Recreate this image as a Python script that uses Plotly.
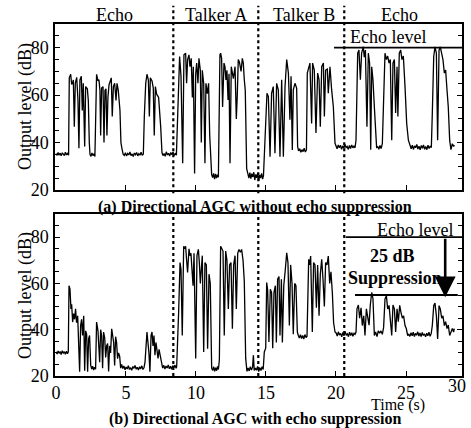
import plotly.graph_objects as go

# ---------------- data: (time s, output level dB) ----------------
# Panel (a): Directional AGC without echo suppression
a_0_to_8 = [(0.00,35.3),(0.08,34.6),(0.15,35.8),(0.22,34.9),(0.30,35.5),(0.37,34.4),(0.45,35.7),(0.52,35.0),
            (0.60,34.5),(0.67,35.9),(0.75,34.8),(0.82,35.4),(0.90,34.7),
            (0.95,67.3),(1.05,68.8),(1.12,64.5),(1.17,65.0),(1.24,66.4),(1.31,46.7),(1.38,65.0),(1.48,67.5),
            (1.57,58.0),(1.64,37.6),(1.71,66.4),(1.81,68.0),(1.88,53.5),(1.95,65.0),(2.05,38.3),(2.12,63.6),
            (2.24,62.7),(2.31,57.7),(2.38,40.0),(2.43,35.0),
            (2.50,34.2),(2.57,35.6),(2.64,34.5),(2.71,35.3),(2.78,34.1),
            (2.83,45.3),(2.90,68.8),(3.00,66.0),(3.07,66.5),(3.14,62.0),(3.19,43.0),(3.26,63.0),(3.36,63.6),
            (3.43,40.0),(3.50,62.0),(3.57,62.7),(3.64,43.0),(3.71,59.0),(3.79,64.4),(3.88,66.0),(3.95,67.3),
            (4.02,51.0),(4.10,63.6),(4.19,65.0),(4.29,57.8),(4.36,65.0),(4.45,62.0),(4.57,53.6),(4.64,40.0),
            (4.71,37.6),(4.80,35.0),
            (4.88,34.6),(4.96,35.7),(5.04,34.3),(5.12,35.4),(5.20,34.8),(5.28,36.0),(5.36,34.5),(5.44,35.2),
            (5.52,34.1),(5.60,35.6),(5.68,34.9),(5.76,35.8),(5.84,34.4),(5.92,35.3),(6.00,34.7),(6.08,35.9),
            (6.16,34.6),(6.24,35.2),
            (6.31,51.0),(6.41,65.0),(6.50,68.8),(6.60,66.4),(6.67,51.0),(6.74,67.3),(6.86,66.0),(6.95,63.0),
            (7.02,43.0),(7.10,63.6),(7.19,60.4),(7.33,59.0),(7.48,46.5),(7.57,35.8),
            (7.64,34.5),(7.72,35.4),(7.80,34.2),(7.88,36.1),(7.96,34.8),(8.04,35.5),(8.12,34.3),(8.20,35.8),
            (8.28,34.9),(8.36,36.0),(8.44,34.6),(8.52,35.3),(8.60,34.7)]
a_8_to_15 = [(8.74,58.0),(8.83,76.3),(8.93,68.0),(9.05,31.3),(9.14,77.0),(9.26,77.7),(9.33,65.0),(9.40,75.0),
             (9.50,77.0),(9.57,72.0),(9.66,75.5),(9.74,59.0),(9.81,72.0),(9.90,27.0),(9.98,69.0),(10.05,73.5),
             (10.14,65.0),(10.21,75.5),(10.31,70.5),(10.38,40.0),(10.45,70.5),(10.55,65.0),(10.64,31.3),
             (10.71,65.0),(10.81,60.6),(10.90,65.0),(10.98,43.0),(11.05,30.0),(11.12,26.5),
             (11.19,25.2),(11.26,27.0),(11.33,24.6),(11.40,26.8),(11.47,25.0),(11.54,26.5),(11.60,25.4),
             (11.64,50.0),(11.71,77.0),(11.76,77.7),(11.83,75.5),(11.90,55.0),(12.00,73.5),(12.07,72.0),
             (12.14,66.4),(12.21,70.5),(12.29,58.0),(12.36,69.0),(12.43,31.3),(12.52,72.0),(12.60,70.0),
             (12.67,67.0),(12.79,72.0),(12.88,50.0),(12.95,60.0),(13.02,75.0),(13.10,74.0),(13.14,73.0),
             (13.22,70.0),(13.31,75.5),(13.38,73.5),(13.45,66.5),(13.52,62.0),(13.62,29.0),(13.70,26.5),
             (13.78,25.0),(13.85,27.3),(13.92,24.8),(13.99,26.9),(14.06,25.5),(14.13,27.5),(14.20,24.2),
             (14.27,26.6),(14.34,25.1),(14.41,27.2),(14.48,23.8),(14.55,26.3),(14.62,25.0),(14.69,27.0),
             (14.76,24.6),(14.82,26.0)]
a_15_to_20 = [(14.93,39.7),(15.07,60.8),(15.17,59.4),(15.29,34.0),(15.40,60.8),(15.52,63.6),(15.64,35.5),
              (15.76,65.0),(15.88,62.2),(16.00,34.0),(16.12,66.5),(16.24,34.0),(16.36,63.6),(16.48,75.0),
              (16.60,69.3),(16.71,49.6),(16.79,68.0),(16.88,36.9),(16.95,62.2),(17.07,65.0),(17.19,63.0),
              (17.26,38.3),
              (17.33,36.5),(17.41,37.4),(17.49,35.9),(17.57,37.0),(17.65,36.2),(17.73,37.6),(17.81,36.0),(17.89,36.9),
              (17.95,69.3),(18.07,72.0),(18.14,73.5),(18.26,48.0),(18.33,73.5),(18.45,70.6),(18.57,44.0),
              (18.69,69.3),(18.79,66.5),(18.88,46.7),(18.98,72.0),(19.10,73.5),(19.17,51.0),(19.26,70.6),
              (19.38,71.0),(19.45,60.8),(19.57,72.0),(19.69,62.2),(19.81,55.2),(19.93,39.7)]
a_20_to_29 = [(20.00,38.5),(20.08,37.4),(20.16,39.0),(20.24,37.8),(20.32,38.9),(20.40,37.2),(20.48,38.6),
              (20.56,37.6),(20.64,39.2),(20.72,37.9),(20.80,38.4),(20.88,37.1),(20.96,38.8),(21.04,37.5),
              (21.12,39.0),(21.20,37.8),(21.28,38.5),(21.36,37.8),
              (21.43,41.0),(21.55,77.7),(21.64,79.0),(21.74,66.5),(21.83,77.7),(21.95,80.4),(22.02,76.0),
              (22.10,79.0),(22.21,46.7),(22.31,77.7),(22.40,73.5),(22.48,37.0),(22.55,72.0),(22.64,66.5),
              (22.74,55.0),(22.83,41.0),(22.90,38.0),(22.98,38.3),(23.06,37.2),(23.14,38.8),(23.22,37.5),
              (23.31,39.5),(23.40,55.0),(23.50,77.7),(23.60,75.0),(23.69,76.5),(23.79,73.5),(23.88,75.0),
              (23.98,41.0),(24.07,73.5),(24.17,75.0),(24.26,52.5),(24.36,72.0),(24.42,51.0),(24.52,77.7),
              (24.62,79.0),(24.71,75.0),(24.81,76.5),(24.93,63.6),(25.05,48.0),(25.17,41.0),(25.29,38.3),
              (25.37,37.4),(25.45,38.9),(25.53,37.1),(25.61,38.6),(25.69,37.8),(25.77,39.2),(25.85,37.3),
              (25.93,38.5),(26.01,36.9),(26.09,38.8),(26.17,37.6),(26.25,39.0),(26.33,37.2),(26.41,38.4),
              (26.49,37.0),(26.57,38.9),(26.65,37.5),(26.73,38.6),(26.81,37.9),
              (26.88,52.5),(26.98,76.3),(27.07,80.4),(27.17,77.7),(27.26,41.0),(27.36,79.0),(27.45,80.4),
              (27.55,77.7),(27.64,75.0),(27.74,69.3),(27.83,70.6),(27.93,62.2),(28.02,55.0),(28.12,41.0),
              (28.21,37.0),(28.31,39.5),(28.40,38.3),(28.45,39.0)]

# Panel (b): Directional AGC with echo suppression
b_0_to_8 = [(0.00,30.4),(0.08,29.5),(0.15,30.8),(0.22,29.8),(0.30,30.6),(0.37,29.3),(0.45,30.9),(0.52,29.9),
            (0.60,30.5),(0.67,29.4),(0.75,30.7),(0.82,29.6),(0.88,30.4),
            (0.93,59.0),(1.00,57.5),(1.07,49.0),(1.12,51.0),(1.19,43.3),(1.26,47.0),(1.33,44.5),(1.40,49.0),
            (1.47,43.0),(1.55,46.0),(1.62,30.4),(1.69,21.8),(1.76,41.8),(1.83,44.5),(1.90,37.5),(1.98,46.0),
            (2.05,22.3),(2.12,39.5),(2.19,38.0),(2.26,21.8),(2.33,36.0),(2.40,37.5),(2.48,24.7),
            (2.55,23.0),(2.62,24.2),(2.69,22.6),(2.76,23.8),(2.83,22.9),
            (2.90,43.3),(2.95,41.0),(3.00,39.5),(3.12,26.0),(3.19,40.0),(3.26,37.5),(3.33,23.4),(3.40,39.0),
            (3.48,36.5),(3.55,28.0),(3.62,33.0),(3.69,34.0),(3.76,22.0),(3.83,33.0),(3.90,30.0),(3.98,40.4),
            (4.05,37.5),(4.12,34.5),(4.19,24.5),(4.26,37.0),(4.33,34.5),(4.40,27.5),(4.47,30.0),(4.55,28.5),
            (4.62,23.4),(4.69,25.0),
            (4.77,23.2),(4.85,24.3),(4.93,22.7),(5.01,23.9),(5.09,23.0),(5.17,24.5),(5.25,22.8),(5.33,23.6),
            (5.41,22.5),(5.49,24.1),(5.57,23.3),(5.65,24.6),(5.73,22.9),(5.81,23.8),(5.89,22.6),(5.97,24.0),
            (6.05,23.1),(6.13,24.4),(6.21,22.8),(6.29,23.7),
            (6.36,26.0),(6.43,36.0),(6.50,39.0),(6.57,34.5),(6.64,30.0),(6.71,21.8),(6.79,37.5),(6.86,39.0),
            (6.93,33.0),(7.00,37.5),(7.07,29.0),(7.14,34.5),(7.21,30.0),(7.29,27.6),(7.36,31.5),(7.43,29.0),
            (7.50,26.0),(7.55,24.0),
            (7.62,23.4),(7.70,24.6),(7.78,23.0),(7.86,24.3),(7.94,23.5),(8.02,24.8),(8.10,23.1),(8.18,24.2),
            (8.26,22.9),(8.34,24.5),(8.42,23.6),(8.50,24.7),(8.58,23.3),(8.62,24.0)]
b_8_to_15 = [(8.69,41.8),(8.76,47.5),(8.86,69.0),(8.93,66.0),(9.02,37.5),(9.12,76.1),(9.19,75.0),(9.26,76.1),
             (9.33,70.0),(9.40,64.7),(9.50,75.0),(9.57,72.0),(9.64,73.0),(9.72,65.0),(9.79,59.0),(9.86,73.0),
             (9.98,27.6),(10.07,72.0),(10.17,74.7),(10.24,69.0),(10.31,60.0),(10.45,72.0),(10.55,30.4),
             (10.64,69.0),(10.74,68.0),(10.83,31.8),(10.93,64.0),(11.02,60.0),(11.12,23.4),
             (11.19,22.4),(11.26,24.0),(11.33,22.0),(11.40,23.6),(11.47,22.3),(11.54,24.2),(11.60,22.8),
             (11.67,27.0),(11.76,76.1),(11.86,75.0),(11.93,74.0),(12.02,37.5),(12.12,74.0),(12.21,70.0),
             (12.31,49.0),(12.40,68.0),(12.50,69.0),(12.60,40.4),(12.69,68.0),(12.79,72.0),(12.88,49.0),
             (12.98,73.0),(13.07,74.7),(13.17,73.5),(13.26,74.7),(13.36,70.0),(13.45,61.0),(13.55,27.6),
             (13.64,22.0),
             (13.72,23.5),(13.80,22.2),(13.88,24.0),(13.96,22.6),(14.04,23.8),(14.10,29.0),(14.16,22.4),
             (14.24,23.4),(14.32,22.5),(14.40,24.1),(14.48,21.9),(14.56,23.6),(14.64,22.4),(14.72,24.0),
             (14.80,22.8)]
b_15_to_20 = [(14.88,30.4),(14.98,32.0),(15.05,60.4),(15.12,57.0),(15.21,34.7),(15.31,57.5),(15.40,56.0),
              (15.48,32.0),(15.57,56.0),(15.67,59.0),(15.74,34.5),(15.83,61.8),(15.93,63.0),(16.00,37.5),
              (16.10,61.8),(16.17,34.5),(16.27,59.0),(16.38,66.0),(16.48,73.2),(16.57,69.0),(16.67,41.8),
              (16.76,68.0),(16.86,60.0),(16.95,38.0),(17.05,60.0),(17.14,59.0),(17.24,39.0),(17.31,37.5),
              (17.38,36.4),(17.46,37.8),(17.54,36.2),(17.62,37.5),(17.70,36.0),(17.78,37.9),(17.86,36.6),
              (17.93,37.2),
              (17.98,47.0),(18.05,70.4),(18.12,68.0),(18.19,71.8),(18.31,39.0),(18.40,69.0),(18.50,68.0),
              (18.60,49.5),(18.69,68.0),(18.79,46.0),(18.88,64.0),(18.98,70.4),(19.07,62.0),(19.17,50.0),
              (19.26,69.0),(19.36,68.0),(19.45,71.8),(19.55,60.0),(19.64,65.0),(19.74,56.0),(19.83,43.0),
              (19.93,39.0)]
b_20_to_29 = [(20.01,38.6),(20.09,37.3),(20.17,39.1),(20.25,37.7),(20.33,38.4),(20.41,36.9),(20.49,38.8),
              (20.57,37.4),(20.65,39.3),(20.73,37.6),(20.81,38.2),(20.89,37.0),(20.97,38.9),(21.05,37.5),
              (21.13,38.7),(21.21,37.2),(21.29,38.5),(21.36,38.0),
              (21.43,39.0),(21.50,49.0),(21.60,50.7),(21.69,45.0),(21.79,49.5),(21.88,41.8),(21.98,46.0),
              (22.07,37.5),(22.17,49.0),(22.26,45.5),(22.36,42.0),(22.45,50.7),(22.55,56.1),(22.64,53.5),
              (22.74,37.5),(22.83,39.0),(22.93,37.0),(23.02,39.5),(23.12,38.5),(23.21,39.5),(23.31,38.0),
              (23.40,41.0),(23.50,53.3),(23.60,54.7),(23.69,49.0),(23.79,50.5),(23.88,43.5),(23.98,37.5),
              (24.07,50.7),(24.17,49.0),(24.26,39.0),(24.36,49.0),(24.45,43.5),(24.55,50.5),(24.64,47.5),
              (24.74,45.0),(24.83,46.0),(24.93,41.8),(25.02,40.5),(25.12,37.5),
              (25.20,38.0),(25.28,37.1),(25.36,38.7),(25.44,37.4),(25.52,38.9),(25.60,37.0),(25.68,38.4),
              (25.76,37.6),(25.84,39.1),(25.92,37.3),(26.00,38.6),(26.08,37.0),(26.16,38.8),(26.24,37.5),
              (26.32,38.2),(26.40,36.9),(26.48,38.5),(26.56,37.4),(26.64,38.9),(26.72,37.2),(26.80,38.3),
              (26.88,41.8),(26.98,50.4),(27.07,51.5),(27.17,46.0),(27.26,36.0),(27.36,50.4),(27.45,49.0),
              (27.55,45.0),(27.64,46.0),(27.74,41.8),(27.83,43.5),(27.93,40.5),(28.02,42.0),(28.12,37.5),
              (28.21,39.0),(28.31,40.5),(28.40,39.0),(28.45,40.5)]

segment_bounds = [8.38, 14.45, 20.59]          # dotted separators (s)
segment_names = ["Echo", "Talker A", "Talker B", "Echo"]
segment_centers = [4.2, 11.4, 17.7, 24.5]
echo_level_db = 80
suppressed_db = 55
x_ticks = [0, 5, 10, 15, 20, 25]
y_ticks = [20, 40, 60, 80]
titles = ["(a) Directional AGC without echo suppression",
          "(b) Directional AGC with echo suppression"]

series_a = a_0_to_8 + a_8_to_15 + a_15_to_20 + a_20_to_29
series_b = b_0_to_8 + b_8_to_15 + b_15_to_20 + b_20_to_29

FONT = "Liberation Serif"
fig = go.Figure()
for s, xa, ya in [(series_a, "x", "y"), (series_b, "x2", "y2")]:
    fig.add_trace(go.Scatter(x=[p[0] for p in s], y=[p[1] for p in s], mode="lines",
                             line=dict(color="black", width=1.3), xaxis=xa, yaxis=ya,
                             showlegend=False, hoverinfo="skip"))

ax_common = dict(showline=True, linecolor="black", linewidth=1.5, showgrid=False, zeroline=False,
                 ticks="inside", tickcolor="black", ticklen=5, tickwidth=1.2)
xr = [-0.07, 29.0]
yr = [20, 90]
fig.update_layout(
    width=471, height=428,
    margin=dict(l=55, r=9, t=24, b=52, autoexpand=False),
    paper_bgcolor="white", plot_bgcolor="white",
    font=dict(family=FONT, color="black", size=18),
    xaxis=dict(domain=[0, 1], range=xr, anchor="y", tickvals=x_ticks, showticklabels=False,
               mirror=True, **ax_common),
    yaxis=dict(domain=[0.5284, 1], range=yr, anchor="x", tickvals=y_ticks, mirror="ticks",
               minor=dict(dtick=5, tick0=0, ticks="inside", ticklen=4, tickcolor="black"),
               tickfont=dict(size=18), ticklabelstandoff=1, **ax_common),
    xaxis2=dict(domain=[0, 1], range=xr, anchor="y2", tickvals=x_ticks, mirror=True,
                tickfont=dict(size=18), ticklabelstandoff=0, **ax_common),
    yaxis2=dict(domain=[0, 0.4602], range=yr, anchor="x2", tickvals=y_ticks, mirror="ticks",
                minor=dict(dtick=5, tick0=0, ticks="inside", ticklen=4, tickcolor="black"),
                tickfont=dict(size=18), ticklabelstandoff=1, **ax_common),
)

# dotted separators
for b in segment_bounds:
    fig.add_shape(type="line", xref="x", yref="y domain", x0=b, x1=b, y0=-0.02, y1=1.11,
                  line=dict(color="black", width=2.2, dash="dot"))
    fig.add_shape(type="line", xref="x2", yref="y2 domain", x0=b, x1=b, y0=0, y1=1.0,
                  line=dict(color="black", width=2.2, dash="dot"))

for name, c in zip(segment_names, segment_centers):
    fig.add_annotation(x=c, y=1.055, xref="x", yref="y domain", text=name, showarrow=False,
                       font=dict(size=18), yanchor="middle")

# echo level, panel (a)
fig.add_shape(type="line", xref="x", yref="y", x0=19.86, x1=29.0, y0=echo_level_db, y1=echo_level_db,
              line=dict(color="black", width=1.8))
fig.add_annotation(x=23.7, y=84.6, xref="x", yref="y", text="Echo level", showarrow=False,
                   font=dict(size=18))

# panel (b) annotations
fig.add_shape(type="line", xref="x2", yref="y2", x0=20.7, x1=29.0, y0=echo_level_db, y1=echo_level_db,
              line=dict(color="black", width=1.8))
fig.add_shape(type="line", xref="x2", yref="y2", x0=21.36, x1=28.7, y0=suppressed_db, y1=suppressed_db,
              line=dict(color="black", width=1.8))
fig.add_annotation(x=28.5, y=83.3, xref="x2", yref="y2", text="Echo level", showarrow=False,
                   xanchor="right", font=dict(size=18))
fig.add_annotation(x=27.8, y=suppressed_db - 1, ax=27.8, ay=echo_level_db, xref="x2", yref="y2",
                   axref="x2", ayref="y2", text="", showarrow=True, arrowhead=2, arrowsize=1.6,
                   arrowwidth=2.6, arrowcolor="black")
fig.add_annotation(x=24.0, y=71.8, xref="x2", yref="y2", text="<b>25 dB</b>", showarrow=False,
                   font=dict(size=18))
fig.add_annotation(x=24.2, y=62.5, xref="x2", yref="y2", text="<b>Suppression</b>", showarrow=False,
                   font=dict(size=18))

# panel titles
fig.add_annotation(x=0.491, y=1 - (207 - 24) / 352, xref="paper", yref="paper",
                   text="<b>%s</b>" % titles[0], showarrow=False, font=dict(size=16), yanchor="middle")
fig.add_annotation(x=0.491, y=1 - (419 - 24) / 352, xref="paper", yref="paper",
                   text="<b>%s</b>" % titles[1], showarrow=False, font=dict(size=16), yanchor="middle")

# y titles
for yc in [1 - (107 - 24) / 352, 1 - (296 - 24) / 352]:
    fig.add_annotation(x=(25 - 55) / 407, y=yc, xref="paper", yref="paper", text="Output level (dB)",
                       textangle=-90, showarrow=False, font=dict(size=18), xanchor="center",
                       yanchor="middle")

# time axis label and the last tick label
fig.add_annotation(x=(427 - 55) / 407, y=1 - (405 - 24) / 352, xref="paper", yref="paper",
                   text="Time (s)", showarrow=False, font=dict(size=16), yanchor="middle")
fig.add_annotation(x=28.65, y=1 - (386 - 24) / 352, xref="x2", yref="paper", text="30",
                   showarrow=False, font=dict(size=18), yanchor="middle")

fig.write_html("out.html", config={"displayModeBar": False},
               post_script="document.body.style.margin='0';")
